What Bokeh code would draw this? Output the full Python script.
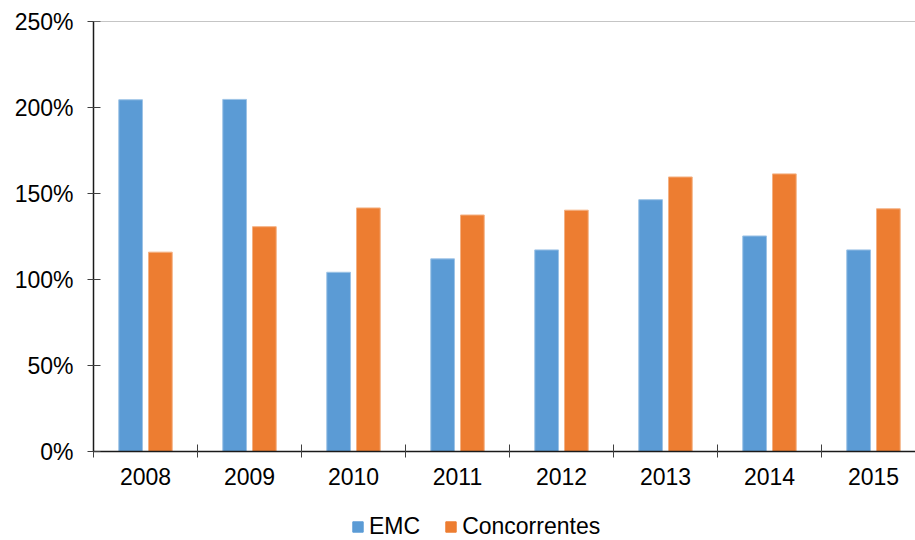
from bokeh.plotting import figure
from bokeh.layouts import column
from bokeh.models import (FixedTicker, LinearAxis, Range1d, Span, Legend, LegendItem,
                          PrintfTickFormatter)
from bokeh.embed import file_html
from bokeh.resources import INLINE

# Annual ratio, in percent
years = ["2008", "2009", "2010", "2011", "2012", "2013", "2014", "2015"]
emc = [204.5, 204.7, 104.2, 112.0, 117.2, 146.4, 125.3, 117.2]
concorrentes = [115.9, 130.7, 141.6, 137.5, 140.3, 159.6, 161.4, 141.1]
y_ticks = [0, 50, 100, 150, 200, 250]
series_names = ["EMC", "Concorrentes"]

BLUE = "#5B9BD5"
ORANGE = "#ED7D31"
FONT = "Liberation Sans"
FONT_SIZE = "23px"

n = len(years)
centers = [i + 0.5 for i in range(n)]
offset = 0.143
bar_w = 0.228

p = figure(frame_width=822, frame_height=430, output_backend="svg", toolbar_location=None,
           x_range=Range1d(0, 7.904), y_range=Range1d(0, 250),
           x_axis_type=None, y_axis_type=None,
           min_border_left=93, min_border_right=0, min_border_top=21,
           min_border_bottom=46)
p.outline_line_color = None
p.background_fill_color = "white"
p.border_fill_color = "white"
p.xgrid.visible = False
p.ygrid.visible = False

p.vbar(x=[c - offset for c in centers], top=emc, width=bar_w,
       fill_color=BLUE, line_color="#9DC3E6", line_width=1)
p.vbar(x=[c + offset for c in centers], top=concorrentes, width=bar_w,
       fill_color=ORANGE, line_color="#F4B183", line_width=1)

# top border line at the 250% level
p.add_layout(Span(location=250, dimension="width", line_color="#8C8C8C", line_width=1))

# Y axis
yaxis = LinearAxis(ticker=FixedTicker(ticks=y_ticks),
                   formatter=PrintfTickFormatter(format="%d%%"))
yaxis.axis_line_color = "#1a1a1a"
yaxis.axis_line_width = 1.5
yaxis.major_tick_line_color = "#404040"
yaxis.major_tick_in = 7
yaxis.major_tick_out = 6
yaxis.minor_tick_line_color = None
yaxis.major_label_text_font = FONT
yaxis.major_label_text_font_size = FONT_SIZE
yaxis.major_label_text_color = "black"
yaxis.major_label_standoff = 14
p.add_layout(yaxis, "left")

# X axis: year labels at category centres, tick marks at category boundaries
xaxis = LinearAxis(ticker=FixedTicker(ticks=centers, minor_ticks=list(range(n))))
xaxis.major_label_overrides = {c: y for c, y in zip(centers, years)}
xaxis.axis_line_color = "#1a1a1a"
xaxis.axis_line_width = 1.5
xaxis.major_tick_line_color = None
xaxis.major_tick_out = 6
xaxis.minor_tick_line_color = "#404040"
xaxis.minor_tick_in = 7
xaxis.minor_tick_out = 6
xaxis.major_label_text_font = FONT
xaxis.major_label_text_font_size = FONT_SIZE
xaxis.major_label_text_color = "black"
xaxis.major_label_standoff = 10
p.add_layout(xaxis, "below")

# Legend strip under the chart; the swatch bars sit outside its visible range
leg = figure(width=915, height=43, output_backend="svg", toolbar_location=None,
             x_range=Range1d(0, 1), y_range=Range1d(0, 1),
             x_axis_type=None, y_axis_type=None,
             min_border_left=0, min_border_right=0, min_border_top=0, min_border_bottom=0)
leg.outline_line_color = None
leg.xgrid.visible = False
leg.ygrid.visible = False
swatches = [leg.vbar(x=[5], top=[1], width=0.1, fill_color=c, line_color=c)
            for c in (BLUE, ORANGE)]
legend = Legend(items=[LegendItem(label=name, renderers=[r])
                       for name, r in zip(series_names, swatches)],
                orientation="horizontal", location=(258, 0),
                label_text_font=FONT, label_text_font_size=FONT_SIZE,
                label_text_color="black", glyph_width=13, glyph_height=13,
                label_height=20, label_standoff=5, spacing=24,
                border_line_color=None, background_fill_alpha=0,
                margin=0, padding=0)
leg.add_layout(legend, "center")

layout = column(p, leg, spacing=0)
open("out.html", "w").write(file_html(layout, INLINE))
